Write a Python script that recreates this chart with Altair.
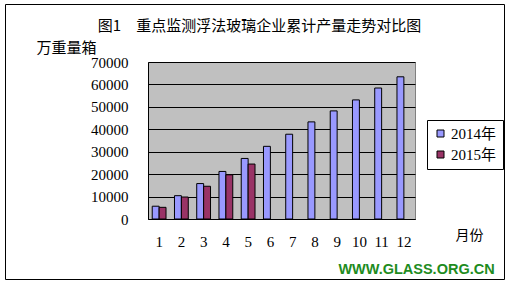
import altair as alt
import pandas as pd

months = [str(m) for m in range(1, 13)]
series = ["2014年", "2015年"]
values_2014 = [5700, 10400, 15800, 21200, 27000, 32400, 37800, 43300, 48200, 53100, 58400, 63400]
values_2015 = [5200, 9800, 14600, 19700, 24500]
y_ticks = [0, 10000, 20000, 30000, 40000, 50000, 60000, 70000]

rows = []
for i, m in enumerate(months):
    rows.append({"month": m, "series": series[0], "value": values_2014[i]})
    if i < len(values_2015):
        rows.append({"month": m, "series": series[1], "value": values_2015[i]})
df = pd.DataFrame(rows)

NUM_FONT = "Liberation Serif, Noto Sans CJK SC"
CJK_FONT = "Noto Sans CJK SC"

W, H = 267, 157
LEFT, TOP = 148, 62

bars = alt.Chart(df).mark_bar(stroke="black", strokeWidth=1).encode(
    x=alt.X("month:N", sort=months,
            scale=alt.Scale(paddingInner=0.38, paddingOuter=0.19),
            axis=alt.Axis(title="月份", labelAngle=0, ticks=False, tickSize=0,
                          labelPadding=22, labelBaseline="middle",
                          labelFont=NUM_FONT, labelFontSize=15, labelColor="black",
                          domainColor="black", grid=False,
                          titleFont=CJK_FONT, titleFontSize=14, titleFontWeight="normal",
                          titleColor="black", titleX=321, titleY=16,
                          titleAlign="center", titleBaseline="middle")),
    xOffset=alt.XOffset("series:N", scale=alt.Scale(domain=series)),
    y=alt.Y("value:Q", scale=alt.Scale(domain=[0, 70000], nice=False),
            axis=alt.Axis(title="万重量箱", values=y_ticks, format="d",
                          ticks=False, tickSize=0, labelPadding=20,
                          labelFont=NUM_FONT, labelFontSize=15, labelColor="black",
                          domainColor="black", gridColor="black", gridOpacity=1,
                          titleFont=CJK_FONT, titleFontSize=15, titleFontWeight="normal",
                          titleColor="black", titleAngle=0, titleX=-82, titleY=-15,
                          titleAlign="center", titleBaseline="middle")),
    color=alt.Color("series:N", scale=alt.Scale(domain=series, range=["#9999FF", "#993366"]),
                    legend=alt.Legend(title=None, orient="none", legendX=279, legendY=58,
                                      symbolType="square", symbolSize=49,
                                      symbolStrokeColor="black", symbolStrokeWidth=1,
                                      labelFont=NUM_FONT, labelFontSize=15, labelColor="black",
                                      labelOffset=3, rowPadding=5,
                                      padding=6, strokeColor="black", fillColor="white",
                                      cornerRadius=0)),
)

frame = alt.Chart(alt.Data(values=[{"a": 1}])).mark_rect(
    fill=None, fillOpacity=0, stroke="black", strokeWidth=1, clip=False
).encode(
    x=alt.value(5.5 - LEFT), x2=alt.value(504.5 - LEFT),
    y=alt.value(4.5 - TOP), y2=alt.value(279.5 - TOP),
)

title = alt.Chart(alt.Data(values=[{"t": "图1　重点监测浮法玻璃企业累计产量走势对比图"}])).mark_text(
    font=CJK_FONT, fontSize=15, color="black", align="center", baseline="middle", clip=False
).encode(text="t:N", x=alt.value(259.5 - LEFT), y=alt.value(26 - TOP))

mark = alt.Chart(alt.Data(values=[{"t": "WWW.GLASS.ORG.CN"}])).mark_text(
    font="Liberation Sans", fontSize=14.5, fontWeight="bold", color="#1E8C1E",
    align="center", baseline="middle", clip=False
).encode(text="t:N", x=alt.value(416.5 - LEFT), y=alt.value(270 - TOP))

chart = alt.layer(bars, frame, title, mark).properties(
    width=W, height=H,
    autosize=alt.AutoSizeParams(type="none"),
    padding={"left": LEFT, "top": TOP, "right": 509 - LEFT - W, "bottom": 292 - TOP - H},
    background="white",
).configure_view(fill="#C0C0C0", stroke="#808080", strokeWidth=1)

chart.save("out.html", embed_options={"renderer": "svg", "actions": False})
